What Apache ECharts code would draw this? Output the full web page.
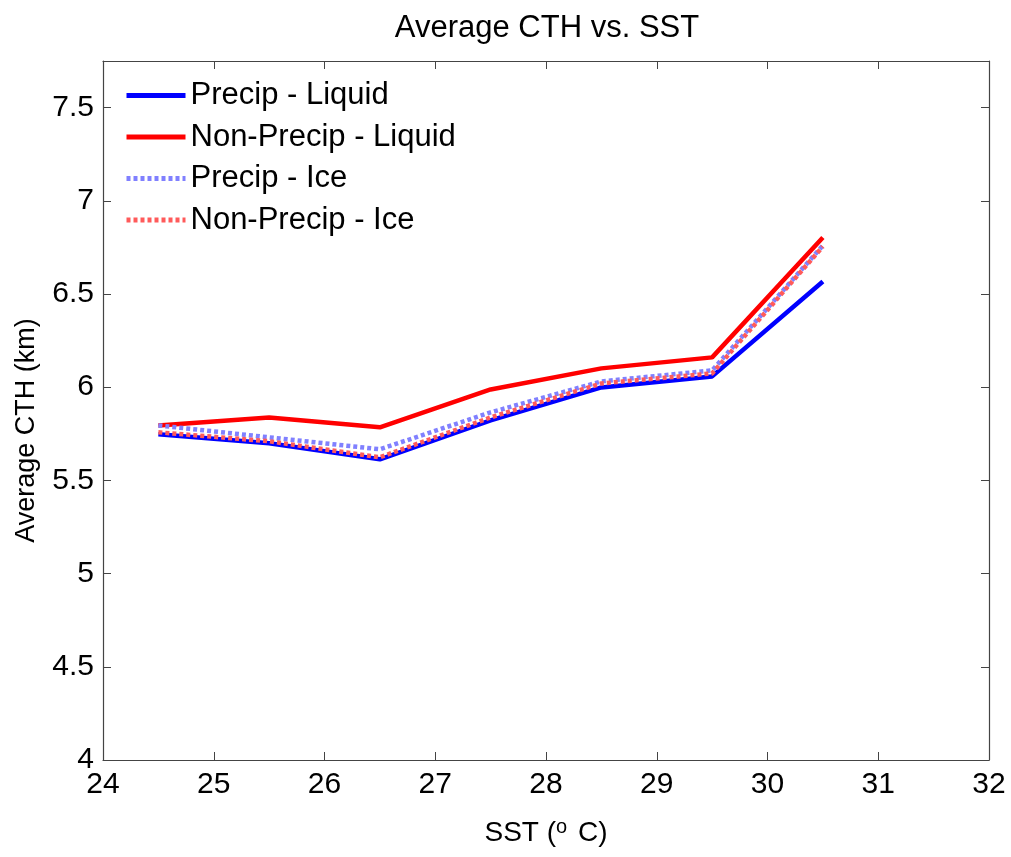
<!DOCTYPE html>
<html>
<head>
<meta charset="utf-8">
<script src="https://cdn.jsdelivr.net/npm/echarts@6/dist/echarts.min.js"></script>
<style>
  html, body { margin: 0; padding: 0; background: #fff; }
  #chart { width: 1011px; height: 857px; }
</style>
</head>
<body>
<div id="chart"></div>
<script>
// SST bin centres (deg C)
const sst = [24.5, 25.5, 26.5, 27.5, 28.5, 29.5, 30.5];

// Average cloud-top height (km) per SST bin
const precipLiquid    = [5.747, 5.699, 5.613, 5.822, 5.999, 6.058, 6.567];
const nonPrecipLiquid = [5.795, 5.838, 5.785, 5.988, 6.101, 6.160, 6.803];
const precipIce       = [5.795, 5.731, 5.667, 5.865, 6.031, 6.090, 6.760];
const nonPrecipIce    = [5.758, 5.710, 5.624, 5.838, 6.020, 6.074, 6.755];

const seriesNames = ['Precip - Liquid', 'Non-Precip - Liquid', 'Precip - Ice', 'Non-Precip - Ice'];

const FONT = 'Liberation Sans';
const AXIS_COLOR = '#444';

function pairs(ys) { return sst.map((x, i) => [x, ys[i]]); }

function lineSeries(name, ys, color, dotted) {
  return {
    name: name,
    type: 'line',
    data: pairs(ys),
    symbol: 'none',
    xAxisIndex: 0,
    yAxisIndex: 0,
    lineStyle: { color: color, width: 4.5, type: dotted ? [4, 3] : 'solid', cap: 'butt' },
    itemStyle: { color: color },
    emphasis: { disabled: true },
    animation: false
  };
}

const chart = echarts.init(document.getElementById('chart'), null, { renderer: 'canvas' });

const innerTick = { show: true, inside: true, length: 8, lineStyle: { color: AXIS_COLOR, width: 1 } };
const frameLine = { show: true, onZero: false, lineStyle: { color: AXIS_COLOR, width: 1.2 } };

chart.setOption({
  backgroundColor: '#fff',
  animation: false,
  title: {
    text: 'Average CTH vs. SST',
    left: 542, top: 8, textAlign: 'center',
    textStyle: { fontFamily: FONT, fontSize: 31, fontWeight: 'normal', color: '#000' }
  },
  legend: {
    data: seriesNames,
    orient: 'vertical',
    left: 119, top: 75,
    itemWidth: 59, itemHeight: 6,
    itemGap: 10.5,
    backgroundColor: '#fff',
    itemStyle: { opacity: 0 },
    lineStyle: { width: 5 },
    textStyle: { fontFamily: FONT, fontSize: 31, lineHeight: 30, color: '#000' },
    selectedMode: false
  },
  grid: { left: 103, right: 22, top: 61, bottom: 97, containLabel: false },
  xAxis: [
    {
      type: 'value', min: 24, max: 32, interval: 1,
      position: 'bottom',
      name: 'SST ({sup|o} C)', nameLocation: 'middle', nameGap: 57,
      nameTextStyle: {
        fontFamily: FONT, fontSize: 28, color: '#000',
        rich: { sup: { fontFamily: FONT, fontSize: 20, color: '#000', verticalAlign: 'top', padding: [0, 3, 12, 0] } }
      },
      axisLine: frameLine, axisTick: innerTick,
      axisLabel: { fontFamily: FONT, fontSize: 30, color: '#000', margin: 10 },
      splitLine: { show: false }
    },
    {
      type: 'value', min: 24, max: 32, interval: 1,
      position: 'top',
      axisLine: frameLine, axisTick: innerTick,
      axisLabel: { show: false }, splitLine: { show: false }
    }
  ],
  yAxis: [
    {
      type: 'value', min: 4, max: 7.75, interval: 0.5,
      position: 'left',
      name: 'Average CTH (km)', nameLocation: 'middle', nameGap: 63,
      nameTextStyle: { fontFamily: FONT, fontSize: 27, color: '#000', padding: [0, 40, 0, 0] },
      axisLine: frameLine, axisTick: innerTick,
      axisLabel: { fontFamily: FONT, fontSize: 30, color: '#000', margin: 9, showMaxLabel: false },
      splitLine: { show: false }
    },
    {
      type: 'value', min: 4, max: 7.75, interval: 0.5,
      position: 'right',
      axisLine: frameLine, axisTick: innerTick,
      axisLabel: { show: false }, splitLine: { show: false }
    }
  ],
  series: [
    lineSeries(seriesNames[0], precipLiquid, '#0000ff', false),
    lineSeries(seriesNames[1], nonPrecipLiquid, '#ff0000', false),
    lineSeries(seriesNames[2], precipIce, '#8080ff', true),
    lineSeries(seriesNames[3], nonPrecipIce, '#ff5a5a', true)
  ]
});
</script>
</body>
</html>
